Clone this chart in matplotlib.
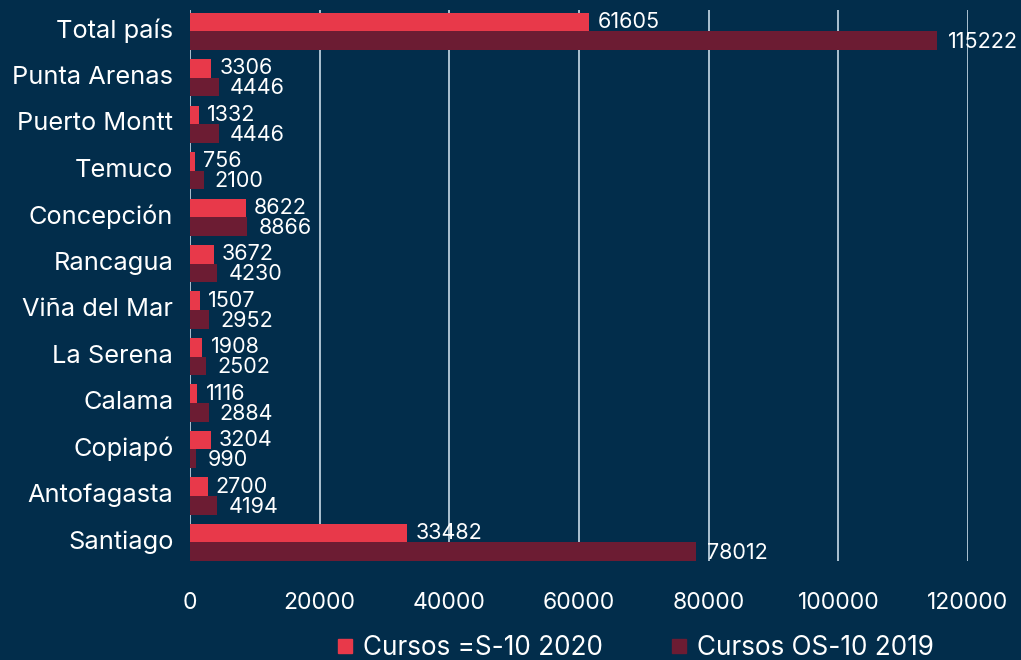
import matplotlib.pyplot as plt
from matplotlib.lines import Line2D
from matplotlib.transforms import ScaledTranslation
import numpy as np

plt.rcParams['font.family'] = ['Inter', 'DejaVu Sans']

# datos
sedes = ['Total país', 'Punta Arenas', 'Puerto Montt', 'Temuco', 'Concepción',
         'Rancagua', 'Viña del Mar', 'La Serena', 'Calama', 'Copiapó',
         'Antofagasta', 'Santiago']
cursos_2020 = [61605, 3306, 1332, 756, 8622, 3672, 1507, 1908, 1116, 3204, 2700, 33482]
cursos_2019 = [115222, 4446, 4446, 2100, 8866, 4230, 2952, 2502, 2884, 990, 4194, 78012]
ticks_x = [0, 20000, 40000, 60000, 80000, 100000, 120000]

fondo = '#022d4b'
rojo = '#e8394a'
granate = '#6c1c33'
blanco = 'white'


def plot_cursos():
    fig = plt.figure(figsize=(10.21, 6.6), dpi=100, facecolor=fondo)
    ax = fig.add_axes([0.1861, 0.15, 0.762, 0.835])
    ax.set_facecolor(fondo)

    y = np.arange(len(sedes))
    h = 0.4
    ax.barh(y - h / 2, cursos_2020, height=h, color=rojo, zorder=3)
    ax.barh(y + h / 2, cursos_2019, height=h, color=granate, zorder=3)

    # etiquetas de valores
    for yi, v in zip(y, cursos_2020):
        ax.annotate(str(v), (v, yi - h / 2), xytext=(6, 0), textcoords='offset points',
                    ha='left', va='center', color=blanco, fontsize=15.5)
    for yi, v in zip(y, cursos_2019):
        ax.annotate(str(v), (v, yi + h / 2), xytext=(8, -1), textcoords='offset points',
                    ha='left', va='center', color=blanco, fontsize=15.5)

    ax.set_xlim(0, 120000)
    ax.set_ylim(11.4, -0.46)
    ax.set_xticks(ticks_x)
    ax.set_xticklabels([str(t) for t in ticks_x])
    ax.set_yticks(y)
    ax.set_yticklabels(sedes)
    ax.tick_params(axis='x', length=0, pad=22, labelsize=16.5, labelcolor=blanco)
    ax.tick_params(axis='y', length=0, pad=12, labelsize=18.3, labelcolor=blanco)
    # las etiquetas de sede van un poco por encima del centro del grupo
    desplaza = ScaledTranslation(0, 3 / 100, fig.dpi_scale_trans)
    for lab in ax.get_yticklabels():
        lab.set_transform(lab.get_transform() + desplaza)
    ax.grid(axis='x', color='#b9cddc', linewidth=1.3, zorder=0)
    ax.grid(axis='y', visible=False)
    for s in ax.spines.values():
        s.set_visible(False)

    handles = [Line2D([], [], marker='s', linestyle='', markersize=10.5, color=rojo),
               Line2D([], [], marker='s', linestyle='', markersize=10.5, color=granate)]
    fig.legend(handles, ['Cursos =S-10 2020', 'Cursos OS-10 2019'], loc='center',
               bbox_to_anchor=(0.621, 0.018), ncol=2, frameon=False, fontsize=18.8,
               labelcolor=blanco, handletextpad=0.3, columnspacing=2.5,
               handlelength=0.8)

    fig.savefig('out.png', dpi=100, facecolor=fondo)


if __name__ == '__main__':
    plot_cursos()
